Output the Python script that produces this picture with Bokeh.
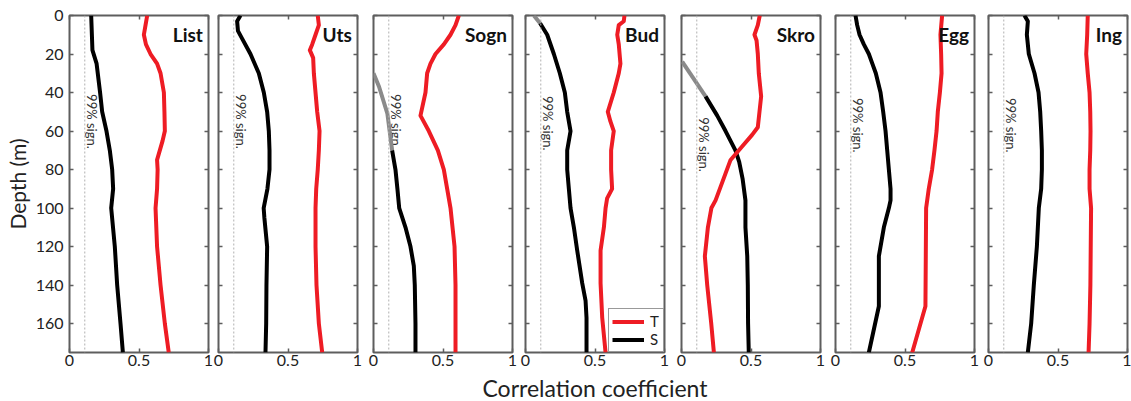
import math
from bokeh.plotting import figure
from bokeh.models import Range1d, LinearAxis, FixedTicker, Span, Label, CustomLabelingPolicy
from bokeh.layouts import row, column
from bokeh.embed import file_html
from bokeh.resources import INLINE
from bokeh.core.properties import value

# ---------------- data ----------------
stations = ["List", "Uts", "Sogn", "Bud", "Skro", "Egg", "Ing"]
sig_level = 0.11
x_ticks = [0, 0.5, 1]
depth_ticks = [0, 20, 40, 60, 80, 100, 120, 140, 160]
sig_text = "99% sign."

# List
list_t_depth = [0, 5, 10, 15, 20, 25, 30, 40, 50, 60, 65, 75, 80, 90, 100, 120, 140, 160, 175]
list_t = [0.559, 0.547, 0.535, 0.55, 0.583, 0.63, 0.655, 0.679, 0.683, 0.686, 0.67, 0.63, 0.634, 0.63, 0.619, 0.63, 0.655, 0.686, 0.714]
list_s_depth = [0, 18, 25, 40, 50, 60, 70, 80, 90, 100, 120, 140, 160, 175]
list_s = [0.156, 0.165, 0.195, 0.22, 0.235, 0.266, 0.29, 0.307, 0.314, 0.30, 0.326, 0.343, 0.367, 0.384]

# Uts
uts_t_depth = [0, 5, 10, 15, 18, 22, 30, 50, 60, 70, 80, 90, 100, 120, 140, 160, 175]
uts_t = [0.714, 0.722, 0.698, 0.674, 0.657, 0.681, 0.686, 0.71, 0.727, 0.722, 0.714, 0.703, 0.698, 0.698, 0.705, 0.722, 0.746]
uts_s_depth = [0, 3, 8, 12, 20, 30, 40, 50, 60, 70, 80, 90, 100, 105, 120, 140, 160, 175]
uts_s = [0.158, 0.134, 0.14, 0.17, 0.23, 0.29, 0.326, 0.35, 0.362, 0.367, 0.367, 0.352, 0.325, 0.33, 0.35, 0.345, 0.343, 0.338]

# Sogn
sogn_t_depth = [0, 5, 10, 15, 20, 25, 30, 40, 52, 60, 70, 80, 90, 100, 120, 140, 175]
sogn_t = [0.614, 0.59, 0.554, 0.506, 0.446, 0.41, 0.386, 0.374, 0.338, 0.398, 0.463, 0.506, 0.53, 0.554, 0.583, 0.59, 0.59]
sogn_s_ns_depth = [30, 37, 51, 70]
sogn_s_ns = [0.0, 0.04, 0.10, 0.134]
sogn_s_depth = [70, 80, 90, 100, 110, 120, 130, 140, 160, 175]
sogn_s = [0.134, 0.158, 0.172, 0.185, 0.23, 0.266, 0.29, 0.297, 0.302, 0.302]

# Bud
bud_t_depth = [0, 3, 5, 10, 15, 25, 30, 40, 50, 55, 60, 70, 80, 90, 95, 100, 110, 122, 139, 157, 175]
bud_t = [0.712, 0.707, 0.671, 0.66, 0.671, 0.683, 0.671, 0.635, 0.592, 0.611, 0.635, 0.616, 0.616, 0.623, 0.587, 0.576, 0.564, 0.54, 0.54, 0.552, 0.576]
bud_s_ns_depth = [0, 4]
bud_s_ns = [0.06, 0.105]
bud_s_depth = [4, 10, 20, 30, 40, 50, 60, 70, 80, 90, 100, 110, 122, 139, 148, 157, 175]
bud_s = [0.105, 0.156, 0.204, 0.247, 0.283, 0.30, 0.324, 0.30, 0.30, 0.312, 0.324, 0.348, 0.372, 0.408, 0.432, 0.439, 0.439]

# Skro
skro_t_depth = [0, 5, 10, 13, 20, 30, 42, 58, 62, 68, 75, 82, 96, 100, 110, 125, 140, 160, 175]
skro_t = [0.563, 0.549, 0.525, 0.54, 0.549, 0.556, 0.573, 0.549, 0.508, 0.436, 0.353, 0.317, 0.245, 0.215, 0.19, 0.168, 0.185, 0.214, 0.233]
skro_s_ns_depth = [24, 42]
skro_s_ns = [0.005, 0.173]
skro_s_depth = [42, 52, 60, 70, 76, 85, 96, 110, 125, 140, 160, 175]
skro_s = [0.173, 0.257, 0.317, 0.388, 0.415, 0.44, 0.46, 0.46, 0.473, 0.477, 0.479, 0.484]

# Egg
egg_t_depth = [0, 10, 20, 30, 40, 50, 60, 70, 80, 90, 100, 151, 175]
egg_t = [0.767, 0.755, 0.76, 0.763, 0.751, 0.736, 0.727, 0.712, 0.695, 0.671, 0.652, 0.647, 0.552]
egg_s_depth = [0, 5, 10, 15, 20, 25, 30, 40, 50, 60, 70, 80, 90, 96, 100, 110, 125, 151, 175]
egg_s = [0.144, 0.156, 0.173, 0.204, 0.24, 0.265, 0.29, 0.324, 0.343, 0.36, 0.372, 0.384, 0.396, 0.396, 0.384, 0.348, 0.312, 0.312, 0.24]

# Ing
ing_t_depth = [0, 10, 20, 30, 40, 50, 60, 70, 80, 90, 100, 140, 160, 175]
ing_t = [0.714, 0.71, 0.703, 0.714, 0.727, 0.732, 0.734, 0.732, 0.727, 0.727, 0.738, 0.733, 0.727, 0.72]
ing_s_depth = [0, 3, 10, 20, 30, 40, 50, 60, 70, 80, 90, 100, 120, 140, 160, 175]
ing_s = [0.259, 0.283, 0.276, 0.29, 0.331, 0.36, 0.372, 0.379, 0.384, 0.384, 0.379, 0.362, 0.348, 0.326, 0.307, 0.283]

t_series = [(list_t_depth, list_t), (uts_t_depth, uts_t), (sogn_t_depth, sogn_t), (bud_t_depth, bud_t),
            (skro_t_depth, skro_t), (egg_t_depth, egg_t), (ing_t_depth, ing_t)]
s_series = [(list_s_depth, list_s), (uts_s_depth, uts_s), (sogn_s_depth, sogn_s), (bud_s_depth, bud_s),
            (skro_s_depth, skro_s), (egg_s_depth, egg_s), (ing_s_depth, ing_s)]
s_ns_series = [None, None, (sogn_s_ns_depth, sogn_s_ns), (bud_s_ns_depth, bud_s_ns),
               (skro_s_ns_depth, skro_s_ns), None, None]

# ---------------- layout / style ----------------
FONT = "Lato"
RED = "#ee1c24"
FRAME = "#5e5e5e"
FW, FH = 139, 337
TOP, BOTTOM, TITLE_H = 15, 21, 28
border_l = [69, 5, 8, 7, 9, 8, 6]
border_r = [5, 8, 6, 8, 7, 8, 4]
sig_label_depth = [55, 55, 55, 56, 67, 57, 57]
sig_label_dx = 0.05
legend_panel = 3

NO_LABELS = "for (const i of indices) { indices.unset(i) }\nreturn indices"


def hide_labels(ax, ticks):
    # tick marks only: empty label strings (zero size) that are also not drawn
    ax.major_label_overrides = {t: "" for t in ticks}
    ax.major_label_text_font_size = "1px"
    ax.major_label_policy = CustomLabelingPolicy(code=NO_LABELS)
    ax.major_label_standoff = 0


def style_axis(ax, ticks):
    ax.ticker = FixedTicker(ticks=ticks)
    ax.axis_line_color = None
    ax.major_tick_in = 4
    ax.major_tick_out = 0
    ax.major_tick_line_color = FRAME
    ax.major_tick_line_width = 1.5
    ax.minor_tick_line_color = None


figs = []
for i, name in enumerate(stations):
    p = figure(frame_width=FW, frame_height=FH,
               x_range=Range1d(0, 1), y_range=Range1d(175, 0),
               output_backend="svg", toolbar_location=None,
               min_border_left=border_l[i], min_border_right=border_r[i],
               min_border_top=TOP, min_border_bottom=BOTTOM)
    p.grid.visible = False
    p.outline_line_color = FRAME
    p.outline_line_width = 2
    p.background_fill_color = "white"
    p.border_fill_color = "white"

    # bottom axis
    xb = p.xaxis[0]
    style_axis(xb, x_ticks)
    xb.major_label_overrides = {0: "0", 0.5: "0.5", 1: "1"}
    xb.major_label_text_font = FONT
    xb.major_label_text_font_size = "16px"
    xb.major_label_text_color = "#222222"
    xb.major_label_standoff = 2

    # left axis
    yl = p.yaxis[0]
    style_axis(yl, depth_ticks)
    if i == 0:
        yl.major_label_text_font = FONT
        yl.major_label_text_font_size = "16px"
        yl.major_label_text_color = "#222222"
        yl.major_label_standoff = 6
        yl.axis_label = "Depth (m)"
        yl.axis_label_text_font = FONT
        yl.axis_label_text_font_size = "21px"
        yl.axis_label_text_font_style = "normal"
        yl.axis_label_text_color = "#222222"
        yl.axis_label_standoff = 3
    else:
        hide_labels(yl, depth_ticks)

    # top and right axes (ticks only)
    xa = LinearAxis()
    style_axis(xa, x_ticks)
    hide_labels(xa, x_ticks)
    p.add_layout(xa, "above")
    yr = LinearAxis()
    style_axis(yr, depth_ticks)
    hide_labels(yr, depth_ticks)
    p.add_layout(yr, "right")

    # significance level
    p.add_layout(Span(location=sig_level, dimension="height", line_color="#b0b0b0",
                      line_width=1, line_dash="2 2"))
    p.text(x=[sig_level + sig_label_dx], y=[sig_label_depth[i]], text=[sig_text],
           angle=-math.pi / 2, text_align="center", text_baseline="middle",
           text_font=value(FONT), text_font_size="13px", text_color="#333333")

    td, tv = t_series[i]
    sd, sv = s_series[i]
    kw_t = dict(legend_label="T") if i == legend_panel else {}
    kw_s = dict(legend_label="S") if i == legend_panel else {}
    if s_ns_series[i] is not None:
        nd, nv = s_ns_series[i]
        p.line(nv, nd, line_color="#8a8a8a", line_width=4, line_join="round")
    p.line(sv, sd, line_color="black", line_width=4, line_join="round", **kw_s)
    p.line(tv, td, line_color=RED, line_width=4, line_join="round", **kw_t)

    if i == legend_panel:
        lg = p.legend[0]
        lg.items = [lg.items[1], lg.items[0]]
        lg.location = "bottom_right"
        lg.margin = 0
        lg.padding = 3
        lg.spacing = 0
        lg.glyph_width = 32
        lg.glyph_height = 15
        lg.label_width = 10
        lg.label_height = 15
        lg.label_standoff = 6
        lg.label_text_font = FONT
        lg.label_text_font_size = "15px"
        lg.label_text_color = "#222222"
        lg.border_line_color = "#333333"
        lg.border_line_width = 1
        lg.background_fill_alpha = 1

    p.add_layout(Label(x=0.96, y=10, text=name, text_align="right", text_baseline="middle",
                       text_font=FONT, text_font_style="bold", text_font_size="19px",
                       text_color="#111111"))
    figs.append(p)

# x-axis title, centred under the middle panel
total_w = sum(border_l) + sum(border_r) + FW * len(stations)
mid = len(stations) // 2
title_x = sum(border_l[:mid + 1]) + sum(border_r[:mid]) + FW * mid + FW / 2
lab = figure(width=total_w, height=TITLE_H, x_range=Range1d(0, total_w), y_range=Range1d(0, TITLE_H),
             output_backend="svg", toolbar_location=None, min_border=0,
             x_axis_location=None, y_axis_location=None)
lab.grid.visible = False
lab.outline_line_color = None
lab.add_layout(Label(x=title_x, y=TITLE_H / 2, text="Correlation coefficient", text_align="center",
                     text_baseline="middle", text_font=FONT, text_font_size="23px",
                     text_color="#222222"))

layout = column(row(*figs, spacing=0), lab, spacing=0)
open("out.html", "w").write(file_html(layout, INLINE))
